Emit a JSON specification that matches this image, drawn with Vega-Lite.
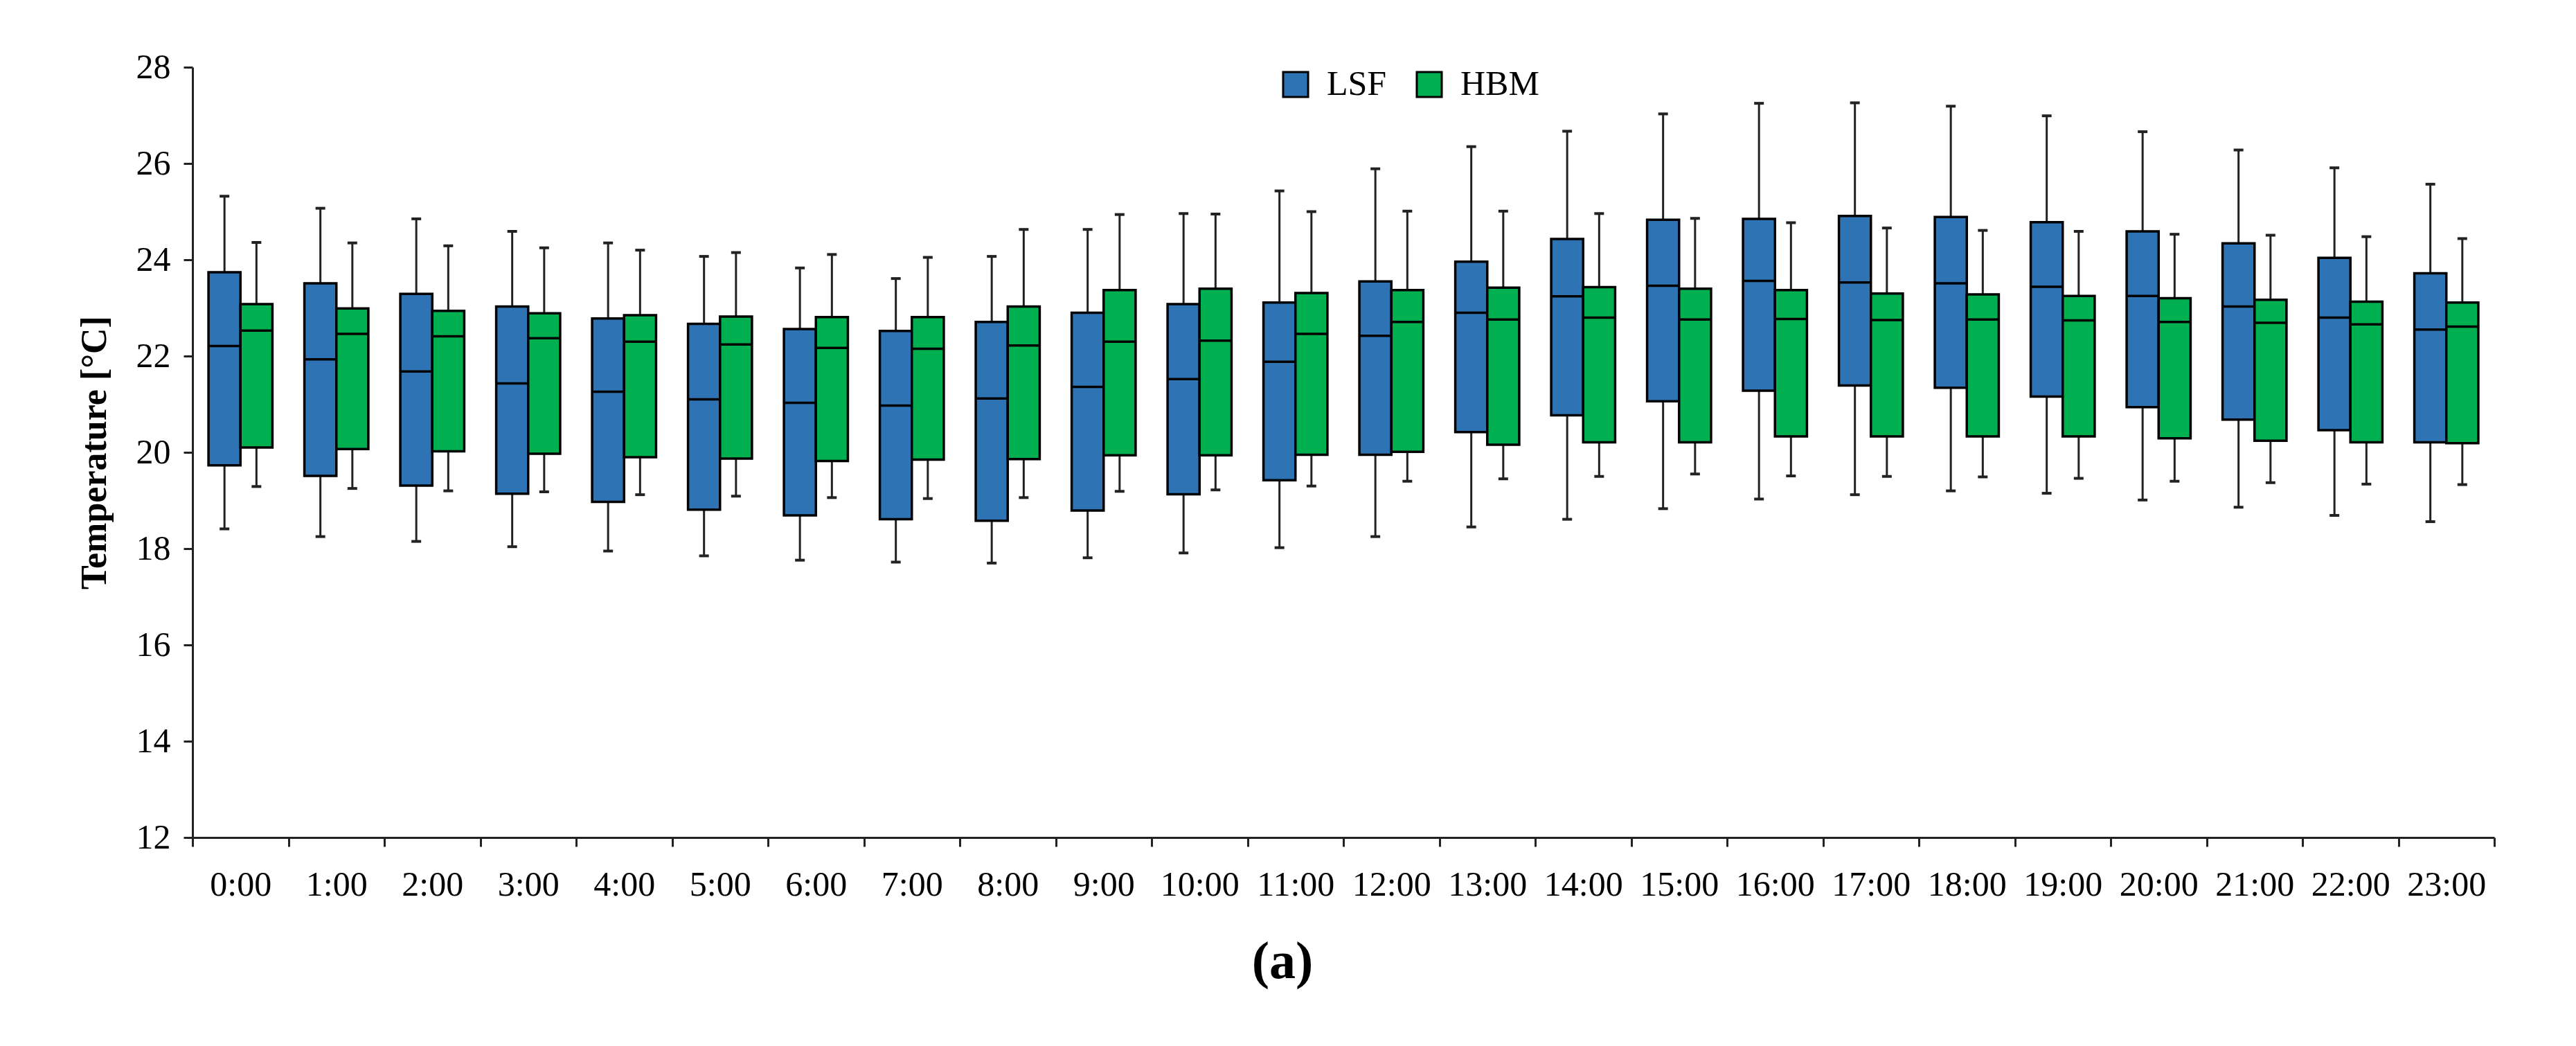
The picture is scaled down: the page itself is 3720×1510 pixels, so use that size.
{
  "$schema": "https://vega.github.io/schema/vega-lite/v6.json",
  "width": 3324,
  "height": 1112,
  "autosize": "none",
  "padding": {"left": 278, "top": 97, "right": 118, "bottom": 301},
  "background": "white",
  "config": {"view": {"stroke": null}},
  "title": {
    "text": "(a)",
    "orient": "bottom",
    "anchor": "middle",
    "font": "Liberation Serif",
    "fontSize": 76,
    "fontWeight": "bold",
    "color": "black",
    "offset": 50,
    "dx": -88
  },
  "data": {
    "values": [
      {"hour": "0:00", "group": "LSF", "lower": 18.41, "q1": 19.73, "median": 22.21, "q3": 23.74, "upper": 25.32},
      {"hour": "0:00", "group": "HBM", "lower": 19.29, "q1": 20.10, "median": 22.53, "q3": 23.08, "upper": 24.36},
      {"hour": "1:00", "group": "LSF", "lower": 18.25, "q1": 19.51, "median": 21.93, "q3": 23.51, "upper": 25.07},
      {"hour": "1:00", "group": "HBM", "lower": 19.25, "q1": 20.07, "median": 22.46, "q3": 22.99, "upper": 24.35},
      {"hour": "2:00", "group": "LSF", "lower": 18.15, "q1": 19.31, "median": 21.68, "q3": 23.29, "upper": 24.85},
      {"hour": "2:00", "group": "HBM", "lower": 19.20, "q1": 20.02, "median": 22.41, "q3": 22.94, "upper": 24.29},
      {"hour": "3:00", "group": "LSF", "lower": 18.04, "q1": 19.14, "median": 21.43, "q3": 23.03, "upper": 24.59},
      {"hour": "3:00", "group": "HBM", "lower": 19.18, "q1": 19.97, "median": 22.37, "q3": 22.89, "upper": 24.25},
      {"hour": "4:00", "group": "LSF", "lower": 17.95, "q1": 18.97, "median": 21.26, "q3": 22.78, "upper": 24.35},
      {"hour": "4:00", "group": "HBM", "lower": 19.12, "q1": 19.90, "median": 22.30, "q3": 22.85, "upper": 24.20},
      {"hour": "5:00", "group": "LSF", "lower": 17.85, "q1": 18.81, "median": 21.10, "q3": 22.67, "upper": 24.07},
      {"hour": "5:00", "group": "HBM", "lower": 19.09, "q1": 19.87, "median": 22.24, "q3": 22.82, "upper": 24.15},
      {"hour": "6:00", "group": "LSF", "lower": 17.76, "q1": 18.69, "median": 21.03, "q3": 22.56, "upper": 23.83},
      {"hour": "6:00", "group": "HBM", "lower": 19.06, "q1": 19.82, "median": 22.17, "q3": 22.81, "upper": 24.11},
      {"hour": "7:00", "group": "LSF", "lower": 17.72, "q1": 18.61, "median": 20.97, "q3": 22.52, "upper": 23.61},
      {"hour": "7:00", "group": "HBM", "lower": 19.04, "q1": 19.85, "median": 22.15, "q3": 22.81, "upper": 24.05},
      {"hour": "8:00", "group": "LSF", "lower": 17.70, "q1": 18.58, "median": 21.12, "q3": 22.71, "upper": 24.07},
      {"hour": "8:00", "group": "HBM", "lower": 19.06, "q1": 19.86, "median": 22.22, "q3": 23.03, "upper": 24.63},
      {"hour": "9:00", "group": "LSF", "lower": 17.81, "q1": 18.79, "median": 21.36, "q3": 22.90, "upper": 24.63},
      {"hour": "9:00", "group": "HBM", "lower": 19.19, "q1": 19.94, "median": 22.30, "q3": 23.37, "upper": 24.94},
      {"hour": "10:00", "group": "LSF", "lower": 17.91, "q1": 19.13, "median": 21.52, "q3": 23.08, "upper": 24.96},
      {"hour": "10:00", "group": "HBM", "lower": 19.22, "q1": 19.94, "median": 22.32, "q3": 23.40, "upper": 24.95},
      {"hour": "11:00", "group": "LSF", "lower": 18.02, "q1": 19.42, "median": 21.88, "q3": 23.11, "upper": 25.43},
      {"hour": "11:00", "group": "HBM", "lower": 19.30, "q1": 19.95, "median": 22.46, "q3": 23.31, "upper": 25.00},
      {"hour": "12:00", "group": "LSF", "lower": 18.25, "q1": 19.95, "median": 22.42, "q3": 23.55, "upper": 25.89},
      {"hour": "12:00", "group": "HBM", "lower": 19.40, "q1": 20.01, "median": 22.71, "q3": 23.37, "upper": 25.01},
      {"hour": "13:00", "group": "LSF", "lower": 18.45, "q1": 20.42, "median": 22.90, "q3": 23.96, "upper": 26.35},
      {"hour": "13:00", "group": "HBM", "lower": 19.45, "q1": 20.16, "median": 22.76, "q3": 23.42, "upper": 25.01},
      {"hour": "14:00", "group": "LSF", "lower": 18.61, "q1": 20.77, "median": 23.24, "q3": 24.43, "upper": 26.67},
      {"hour": "14:00", "group": "HBM", "lower": 19.50, "q1": 20.21, "median": 22.80, "q3": 23.43, "upper": 24.96},
      {"hour": "15:00", "group": "LSF", "lower": 18.83, "q1": 21.06, "median": 23.46, "q3": 24.83, "upper": 27.03},
      {"hour": "15:00", "group": "HBM", "lower": 19.55, "q1": 20.21, "median": 22.76, "q3": 23.40, "upper": 24.86},
      {"hour": "16:00", "group": "LSF", "lower": 19.03, "q1": 21.28, "median": 23.56, "q3": 24.85, "upper": 27.25},
      {"hour": "16:00", "group": "HBM", "lower": 19.51, "q1": 20.33, "median": 22.77, "q3": 23.37, "upper": 24.77},
      {"hour": "17:00", "group": "LSF", "lower": 19.12, "q1": 21.39, "median": 23.53, "q3": 24.91, "upper": 27.26},
      {"hour": "17:00", "group": "HBM", "lower": 19.50, "q1": 20.33, "median": 22.75, "q3": 23.30, "upper": 24.66},
      {"hour": "18:00", "group": "LSF", "lower": 19.20, "q1": 21.34, "median": 23.51, "q3": 24.89, "upper": 27.19},
      {"hour": "18:00", "group": "HBM", "lower": 19.49, "q1": 20.33, "median": 22.76, "q3": 23.28, "upper": 24.61},
      {"hour": "19:00", "group": "LSF", "lower": 19.15, "q1": 21.16, "median": 23.44, "q3": 24.78, "upper": 26.99},
      {"hour": "19:00", "group": "HBM", "lower": 19.46, "q1": 20.33, "median": 22.74, "q3": 23.25, "upper": 24.59},
      {"hour": "20:00", "group": "LSF", "lower": 19.01, "q1": 20.94, "median": 23.25, "q3": 24.59, "upper": 26.66},
      {"hour": "20:00", "group": "HBM", "lower": 19.40, "q1": 20.29, "median": 22.71, "q3": 23.20, "upper": 24.53},
      {"hour": "21:00", "group": "LSF", "lower": 18.86, "q1": 20.68, "median": 23.03, "q3": 24.34, "upper": 26.28},
      {"hour": "21:00", "group": "HBM", "lower": 19.37, "q1": 20.24, "median": 22.69, "q3": 23.17, "upper": 24.51},
      {"hour": "22:00", "group": "LSF", "lower": 18.69, "q1": 20.46, "median": 22.80, "q3": 24.04, "upper": 25.91},
      {"hour": "22:00", "group": "HBM", "lower": 19.34, "q1": 20.21, "median": 22.66, "q3": 23.13, "upper": 24.48},
      {"hour": "23:00", "group": "LSF", "lower": 18.56, "q1": 20.21, "median": 22.55, "q3": 23.72, "upper": 25.57},
      {"hour": "23:00", "group": "HBM", "lower": 19.33, "q1": 20.19, "median": 22.61, "q3": 23.11, "upper": 24.44}
    ]
  },
  "encoding": {
    "x": {
      "field": "hour",
      "type": "nominal",
      "sort": null,
      "scale": {"paddingInner": 0, "paddingOuter": 0},
      "axis": {
        "title": null,
        "labelAngle": 0,
        "labelFont": "Liberation Serif",
        "labelFontSize": 50,
        "labelColor": "black",
        "labelPadding": 30,
        "tickBand": "extent",
        "tickSize": 13,
        "tickWidth": 3,
        "tickColor": "#222222",
        "domainColor": "#222222",
        "domainWidth": 3,
        "grid": false
      }
    },
    "xOffset": {
      "field": "group",
      "type": "nominal",
      "sort": ["LSF", "HBM"],
      "scale": {"paddingInner": 0, "paddingOuter": 0.5}
    }
  },
  "layer": [
    {
      "mark": {"type": "rule", "color": "#222222", "strokeWidth": 3},
      "encoding": {
        "y": {
          "field": "lower",
          "type": "quantitative",
          "scale": {"domain": [12, 28], "nice": false, "zero": false},
          "axis": {
            "title": "Temperature [°C]",
            "titleFont": "Liberation Serif",
            "titleFontSize": 52,
            "titleFontWeight": "bold",
            "titleColor": "black",
            "titlePadding": 33,
            "values": [12, 14, 16, 18, 20, 22, 24, 26, 28],
            "format": "d",
            "labelFont": "Liberation Serif",
            "labelFontSize": 50,
            "labelColor": "black",
            "labelPadding": 19,
            "tickSize": 13,
            "tickWidth": 3,
            "tickColor": "#222222",
            "domainColor": "#222222",
            "domainWidth": 3,
            "grid": false
          }
        },
        "y2": {"field": "upper"}
      }
    },
    {
      "mark": {"type": "bar", "stroke": "black", "strokeWidth": 3.5},
      "encoding": {
        "y": {"field": "q1", "type": "quantitative"},
        "y2": {"field": "q3"},
        "color": {
          "field": "group",
          "type": "nominal",
          "sort": ["LSF", "HBM"],
          "scale": {"domain": ["LSF", "HBM"], "range": ["#2E74B5", "#00B050"]},
          "legend": {
            "title": null,
            "orient": "none",
            "legendX": 1568,
            "legendY": 0,
            "direction": "horizontal",
            "symbolType": "square",
            "symbolSize": 1300,
            "symbolStrokeColor": "black",
            "symbolStrokeWidth": 3,
            "symbolOpacity": 1,
            "labelFont": "Liberation Serif",
            "labelFontSize": 50,
            "labelColor": "black",
            "labelOffset": 20,
            "columnPadding": 36
          }
        }
      }
    },
    {
      "mark": {"type": "tick", "color": "black", "thickness": 3.5, "size": 46, "opacity": 1},
      "encoding": {
        "y": {"field": "median", "type": "quantitative"}
      }
    },
    {
      "mark": {"type": "tick", "color": "#222222", "thickness": 4, "size": 14, "opacity": 1},
      "encoding": {
        "y": {"field": "upper", "type": "quantitative"}
      }
    },
    {
      "mark": {"type": "tick", "color": "#222222", "thickness": 4, "size": 14, "opacity": 1},
      "encoding": {
        "y": {"field": "lower", "type": "quantitative"}
      }
    }
  ]
}
